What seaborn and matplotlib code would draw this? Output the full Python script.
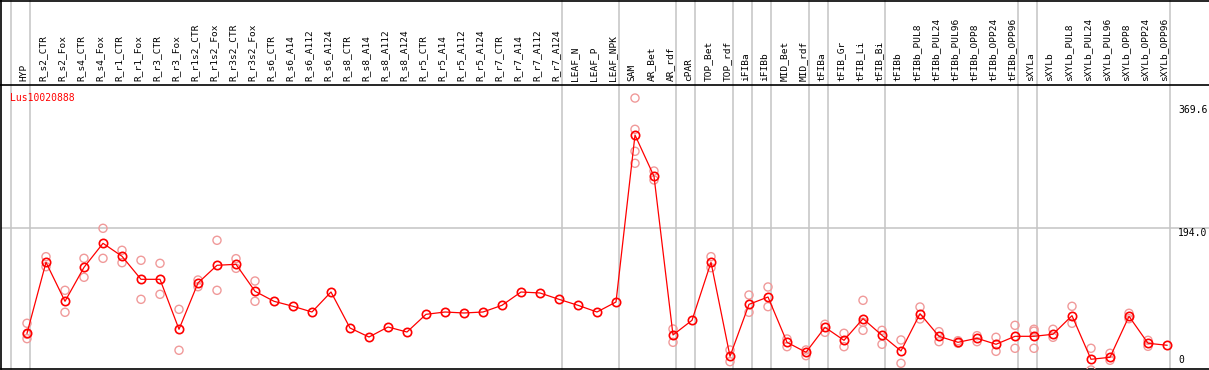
import pandas as pd
import matplotlib.pyplot as plt
import matplotlib.transforms as mtransforms
from matplotlib.lines import Line2D
import seaborn as sns

# Données
GENE = "Lus10020888"

SAMPLES = [
    "HYP", "R_s2_CTR", "R_s2_Fox", "R_s4_CTR", "R_s4_Fox", "R_r1_CTR", "R_r1_Fox",
    "R_r3_CTR", "R_r3_Fox", "R_r1s2_CTR", "R_r1s2_Fox", "R_r3s2_CTR", "R_r3s2_Fox",
    "R_s6_CTR", "R_s6_A14", "R_s6_A112", "R_s6_A124", "R_s8_CTR", "R_s8_A14",
    "R_s8_A112", "R_s8_A124", "R_r5_CTR", "R_r5_A14", "R_r5_A112", "R_r5_A124",
    "R_r7_CTR", "R_r7_A14", "R_r7_A112", "R_r7_A124", "LEAF_N", "LEAF_P", "LEAF_NPK",
    "SAM", "AR_Bet", "AR_rdf", "cPAR", "TOP_Bet", "TOP_rdf", "iFIBa", "iFIBb",
    "MID_Bet", "MID_rdf", "tFIBa", "tFIB_Gr", "tFIB_Li", "tFIB_Bi", "tFIBb",
    "tFIBb_PUL8", "tFIBb_PUL24", "tFIBb_PUL96", "tFIBb_OPP8", "tFIBb_OPP24",
    "tFIBb_OPP96", "sXYLa", "sXYLb", "sXYLb_PUL8", "sXYLb_PUL24", "sXYLb_PUL96",
    "sXYLb_OPP8", "sXYLb_OPP24", "sXYLb_OPP96",
]

MEANS = [
    45.0, 145.7, 90.4, 138.6, 172.7, 154.3, 121.6, 121.6, 50.7, 116.4, 141.5, 142.9, 104.6,
    90.4, 83.3, 75.2, 103.6, 52.5, 39.7, 53.9, 46.8, 71.9, 75.2, 73.8, 75.2,
    84.7, 103.6, 102.2, 93.2, 84.7, 75.2, 89.4,
    326.4, 267.8, 42.6, 63.4, 145.7, 12.3, 86.1, 96.5,
    32.2, 18.0, 53.5, 35.0, 65.7, 42.1, 19.9,
    72.8, 40.7, 32.2, 37.9, 29.4, 40.7,
    40.7, 43.6, 70.0, 8.1, 10.9, 69.1, 30.8, 28.0,
]

REPLICATES = [
    [59.2, 43.6, 37.4], [153.7, 139.5], [106.0, 74.8], [151.4, 124.5], [194.0, 151.4],
    [162.8, 145.2], [148.6, 93.2], [144.3, 100.3], [79.0, 20.9], [120.6, 111.1],
    [177.0, 106.0], [150.9, 137.2], [119.2, 90.4],
    [], [], [], [], [], [], [], [], [], [], [], [], [], [], [], [], [], [], [],
    [378.9, 334.5, 303.3, 286.3], [275.3, 262.6], [51.1, 32.2], [], [153.7, 138.1],
    [21.3, 4.7], [99.3, 74.8], [110.7, 82.8], [36.9, 26.0], [21.3, 13.2],
    [57.8, 46.4], [45.0, 26.0], [91.8, 60.6, 49.2], [49.2, 29.4], [35.5, 2.4],
    [82.3, 65.3], [47.3, 33.1], [34.5, 30.8], [41.6, 33.1], [39.3, 19.4], [56.3, 23.7],
    [50.7, 48.0, 23.7], [50.7, 39.3], [83.3, 59.2], [23.7, -7.1], [16.6, 6.7],
    [73.4, 65.7], [35.0, 26.5], [],
]

# séparateurs de groupes (après l'échantillon d'indice i)
GROUP_ENDS = [-1, 0, 28, 31, 34, 35, 37, 38, 39, 41, 42, 45, 52, 53, 60]
Y_LABELS = [369.6, 194.0, 0]

RED = "#ff0000"
PINK = "#f09a9a"
GREY = "#c4c4c4"

plt.rcParams.update({
    "font.family": "DejaVu Sans Mono",
    "font.size": 7,
})

df_mean = pd.DataFrame({"pos": range(len(SAMPLES)), "value": MEANS})
df_rep = pd.DataFrame(
    [(i, v) for i, reps in enumerate(REPLICATES) for v in reps],
    columns=["pos", "value"],
)

W, H = 1209, 370
fig = plt.figure(figsize=(W / 100, H / 100), dpi=100)
ax = fig.add_axes([1 / W, 1 / H, 1 - 1 / W, 284 / H])

sns.scatterplot(data=df_rep, x="pos", y="value", ax=ax, s=34, marker="o",
                facecolor="none", edgecolor=PINK, linewidth=1.0, zorder=3)
sns.lineplot(data=df_mean, x="pos", y="value", ax=ax, color=RED, linewidth=0.9,
             marker="o", markersize=6, markerfacecolor="none", markeredgecolor=RED,
             markeredgewidth=1.2, sort=False, zorder=4)

ax.set_xlim(-26 / 19, (W - 27) / 19)
ax.set_ylim(-5.7, 397.4)

# lignes de séparation verticales (jusqu'en haut de la figure)
for g in GROUP_ENDS:
    ax.axvline(g + 0.18, ymin=0, ymax=1 + 85 / 284, color=GREY, linewidth=1.1,
               clip_on=False, zorder=1)
ax.axhline(Y_LABELS[1], color=GREY, linewidth=1.1, zorder=1)

# étiquettes des échantillons en haut
ax.xaxis.tick_top()
ax.set_xticks(range(len(SAMPLES)))
ax.set_xticklabels(SAMPLES, rotation=90, fontsize=6.8)
ax.tick_params(axis="x", length=0, pad=3)
shift = mtransforms.ScaledTranslation(-3 / 100, 0, fig.dpi_scale_trans)
for lab in ax.get_xticklabels():
    lab.set_transform(lab.get_transform() + shift)
ax.set_yticks([])
ax.set_xlabel("")
ax.set_ylabel("")

for s in ["left", "top", "bottom"]:
    ax.spines[s].set_color("black")
    ax.spines[s].set_linewidth(1.2)
ax.spines["right"].set_visible(False)

# valeurs de l'échelle à droite
xlab = (1178 - 27) / 19
for v in Y_LABELS:
    ax.text(xlab, v, f"{v:.1f}" if v else "0", ha="left",
            va="bottom" if v == 0 else "top", fontsize=7, color="black")

ax.text(9 / W, 0.972, GENE, transform=ax.transAxes, ha="left", va="top",
        fontsize=7, color=RED)

# cadre de l'en-tête
fig.add_artist(Line2D([0, 1], [1 - 0.6 / H, 1 - 0.6 / H], transform=fig.transFigure,
                      color="black", linewidth=1.2))
fig.add_artist(Line2D([1 / W, 1 / W], [285 / H, 1], transform=fig.transFigure,
                      color="black", linewidth=1.2))

fig.savefig("out.png", dpi=100)
